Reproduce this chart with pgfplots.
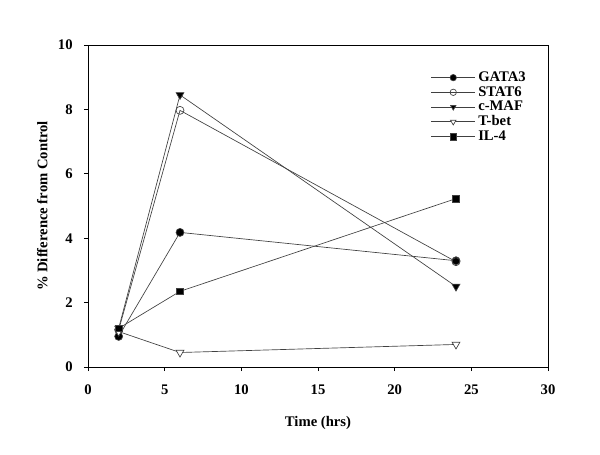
\documentclass[border=0pt]{standalone}
\usepackage{fontspec}
\setmainfont{Liberation Serif}
\usepackage{pgfplots}
\pgfplotsset{compat=1.18}
\begin{document}
\begin{tikzpicture}
% page frame, 600 x 454 px at 0.75pt per px
\path (0pt,0pt) rectangle (450pt,340.5pt);
\begin{axis}[
    at={(66pt,65.25pt)}, anchor=south west,
    scale only axis, width=345pt, height=241.5pt,
    xmin=0, xmax=30, ymin=0, ymax=10,
    xtick={0,5,...,30}, ytick={0,2,...,10},
    tick align=outside, tick pos=left,
    major tick length=3pt,
    axis line style={line width=0.6pt},
    tick style={line width=0.6pt, black},
    ticklabel style={font=\bfseries\fontsize{11}{12}\selectfont},
    /pgf/number format/assume math mode=true,
    xticklabel style={yshift=-7pt},
    yticklabel style={xshift=-5pt},
    xlabel={\bfseries Time (hrs)},
    ylabel={\bfseries \% Difference from Control},
    label style={font=\bfseries\fontsize{11}{12}\selectfont},
    xlabel style={yshift=-9pt},
    ylabel style={yshift=1pt},
    every axis plot/.append style={line width=0.5pt, color=black!75, mark size=3pt,
        mark options={solid, draw=black}},
    legend cell align=left,
    legend style={draw=none, fill=none, at={(0.742,0.93)}, anchor=north west,
        font=\bfseries\fontsize{11}{11}\selectfont, row sep=-1.8pt, inner sep=1pt,
        /tikz/every even column/.append style={column sep=9pt}},
    legend image code/.code={%
        \draw[#1] (0pt,0pt) -- (33pt,0pt);
        \draw[#1, only marks, mark size=2.4pt] plot coordinates {(16.5pt,0pt)};},
]
\addplot[mark=*, mark options={fill=black}] coordinates {(2,0.95) (6,4.18) (24,3.3)};
\addlegendentry{GATA3}
\addplot[mark=o, mark options={fill=white}] coordinates {(2,1.15) (6,7.97) (24,3.27)};
\addlegendentry{STAT6}
\addplot[mark=triangle*, mark size=3.4pt, mark options={fill=black, rotate=180}] coordinates {(2,1.2) (6,8.45) (24,2.5)};
\addlegendentry{c-MAF}
\addplot[mark=triangle*, mark size=3.4pt, mark options={fill=white, rotate=180}] coordinates {(2,1.1) (6,0.45) (24,0.7)};
\addlegendentry{T-bet}
\addplot[mark=square*, mark size=2.6pt, mark options={fill=black}] coordinates {(2,1.2) (6,2.35) (24,5.23)};
\addlegendentry{IL-4}
\end{axis}
\end{tikzpicture}
\end{document}
